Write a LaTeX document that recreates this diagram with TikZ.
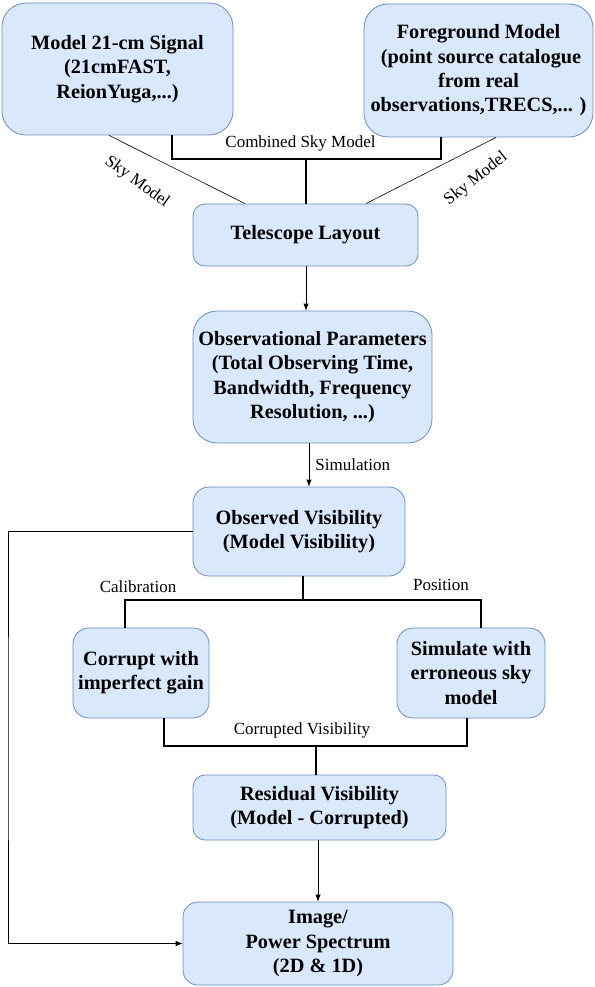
\documentclass[tikz,border=0pt]{standalone}
\usepackage{fontspec}
\setmainfont{Liberation Serif}
\usepackage{tikz}
\usetikzlibrary{arrows.meta}

\definecolor{boxfill}{HTML}{DAE8FC}
\definecolor{boxline}{HTML}{6C8EBF}

\begin{document}
\begin{tikzpicture}[>={Latex[length=7pt,width=5.5pt]}, x=1pt, y=-1pt, % pixel-like units, y grows downwards
    blk/.style={rectangle, draw=boxline, fill=boxfill, line width=0.8pt, rounded corners=#1,
        inner sep=0pt, align=center, font=\fontsize{20.3}{24.3}\selectfont\bfseries},
    blk/.default=16pt,
    lbl/.style={inner sep=0pt, font=\fontsize{17}{20}\selectfont},
    link/.style={line width=0.8pt},
    bracket/.style={line width=1.3pt}]

    \useasboundingbox (0,0) rectangle (594,987);

    % Sky models on top
    \node[blk=24pt, minimum width=231pt, minimum height=132pt] (sig) at (117.5,69) {Model 21-cm Signal\\(21cmFAST,\\ReionYuga,...)};
    \node[blk=24pt, minimum width=229pt, minimum height=133pt] (fg) at (478.5,70.5) {\rule{0pt}{5pt}Foreground Model\\~(point source catalogue\\from real\\observations,TRECS,... )};

    % Main chain
    \node[blk=12pt, minimum width=225pt, minimum height=62pt] (tel) at (305.5,235) {Telescope Layout};
    \node[blk=24pt, minimum width=239pt, minimum height=132pt] (obs) at (312.5,377) {Observational Parameters\\(Total Observing Time,\\Bandwidth, Frequency\\Resolution, ...)};
    \node[blk, minimum width=212pt, minimum height=89pt] (obsvis) at (299,531.5) {Observed Visibility\\(Model Visibility)};
    \node[blk, minimum width=136pt, minimum height=90pt] (corr) at (141,673) {Corrupt with\\imperfect gain};
    \node[blk, minimum width=148pt, minimum height=90pt] (simsky) at (471,673) {Simulate with\\erroneous sky\\model};
    \node[blk=12pt, minimum width=253pt, minimum height=65pt] (resid) at (319.5,807.5) {Residual Visibility\\(Model - Corrupted)};
    \node[blk=15pt, minimum width=270pt, minimum height=83pt] (img) at (318,943.5) {Image/\\Power Spectrum\\(2D \& 1D)};

    % Joints of the brackets
    \coordinate (skyjoin) at (306,159);
    \coordinate (splitjoin) at (303,600);
    \coordinate (corrjoin) at (316,746);
    \coordinate (fbturn) at (8,740);

    % Sky model links
    \draw[link, line width=0.6pt] (sig.south -| 109,0) -- (tel.north -| 245,0);
    \draw[link, line width=0.6pt] (fg.south -| 496,0) -- (tel.north -| 366,0);
    \node[lbl, rotate=-36] (skyl) at (137,182) {Sky Model};
    \node[lbl, rotate=38] (skyr) at (476,179) {Sky Model};

    \draw[bracket] (sig.south -| 172,0) |- (skyjoin) -| (fg.south -| 441,0);
    \draw[bracket] (skyjoin) -- (tel.north -| skyjoin);
    \node[lbl] (combl) at (300.5,143) {Combined Sky Model};

    % Arrows down the chain
    \draw[link, ->] (tel.south -| 306,0) -- (obs.north -| 306,0);
    \draw[link, ->] (obs.south -| 309,0) -- (obsvis.north -| 309,0) node[lbl, midway, right=6pt] {Simulation};

    % Split into calibration and position errors
    \draw[bracket] (obsvis.south -| splitjoin) -- (splitjoin);
    \draw[bracket] (corr.north -| 125,0) |- (splitjoin) -| (simsky.north -| 481,0);
    \node[lbl] (call) at (138,587) {Calibration};
    \node[lbl] (posl) at (441,585) {Position};

    % Merge into the residual
    \draw[bracket] (corr.south -| 164,0) |- (corrjoin) -| (simsky.south -| 467,0);
    \draw[bracket] (corrjoin) -- (resid.north -| corrjoin);
    \node[lbl] (corrl) at (302,730) {Corrupted Visibility};

    \draw[link, ->] (resid.south -| 318,0) -- (img.north -| 318,0);

    % Observed visibility straight to the image
    \draw[link, ->] (obsvis.west) -| (fbturn) |- (img.west);
\end{tikzpicture}
\end{document}
